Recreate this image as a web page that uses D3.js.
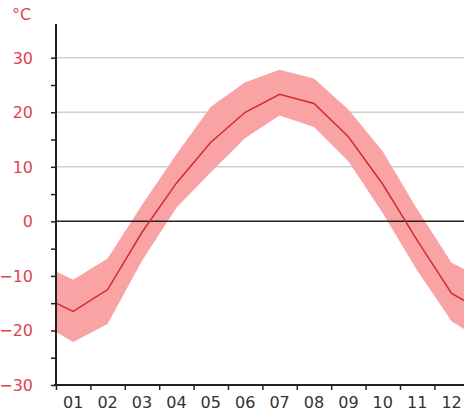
<!DOCTYPE html>
<meta charset="utf-8">
<script src="https://d3js.org/d3.v7.min.js"></script>
<style>
  body { margin: 0; background: #fff; }
  text { font-family: "DejaVu Sans", sans-serif; }
</style>
<div id="chart"></div>
<script>

var months = ["01","02","03","04","05","06","07","08","09","10","11","12"];
var meanTemp = [-16.5, -12.5, -2, 7, 14.5, 20, 23.3, 21.6, 15.5, 6.8, -3.5, -13.2];
var highTemp = [-10.7, -6.8, 3, 12.3, 21, 25.5, 27.8, 26.2, 20.5, 12.8, 2.2, -7.6];
var lowTemp  = [-22.1, -18.8, -7.2, 2.5, 9, 15.3, 19.4, 17.3, 11, 1.5, -9, -18.3];
// values where the curves meet the left and right edges (Dec/Jan wrap)
var edgeMean = -15, edgeHigh = -9.2, edgeLow = -20.3;
var yTicks = [-30, -20, -10, 0, 10, 20, 30];
var gridValues = [10, 20, 30];

var width = 464, height = 413,
  red = "#e0424c",
  lineRed = "#d42a2f",
  bandPink = "#f9a3a4";

var svg = d3.select("#chart")
  .append("svg")
    .attr("width", width)
    .attr("height", height);

var x = d3.scaleLinear().domain([0, 12]).range([56, 468.8]);
var y = d3.scaleLinear().domain([-30, 36]).range([385, 25]);

// points at month centres plus the wrap-around edges
var pts = [{m: 0, mean: edgeMean, hi: edgeHigh, lo: edgeLow}];
months.forEach(function(d, i) {
  pts.push({m: i + 0.5, mean: meanTemp[i], hi: highTemp[i], lo: lowTemp[i]});
});
pts.push({m: 12, mean: edgeMean, hi: edgeHigh, lo: edgeLow});

// grid
svg.selectAll(".grid")
  .data(gridValues)
  .enter()
  .append("line")
    .attr("x1", 56).attr("x2", width)
    .attr("y1", function(d){ return y(d) }).attr("y2", function(d){ return y(d) })
    .style("stroke", "#cfcfcf")
    .style("stroke-width", 1.5)

// band
svg.append("path")
  .datum(pts)
  .attr("d", d3.area()
    .x(function(d){ return x(d.m) })
    .y0(function(d){ return y(d.lo) })
    .y1(function(d){ return y(d.hi) }))
  .style("fill", bandPink)

// zero line
svg.append("line")
  .attr("x1", 56).attr("x2", width)
  .attr("y1", y(0)).attr("y2", y(0))
  .style("stroke", "#222")
  .style("stroke-width", 1.5)

// mean line
svg.append("path")
  .datum(pts)
  .attr("d", d3.line()
    .x(function(d){ return x(d.m) })
    .y(function(d){ return y(d.mean) }))
  .style("fill", "none")
  .style("stroke", lineRed)
  .style("stroke-width", 1.5)

// y axis
var yAxis = svg.append("g")
  .attr("transform", "translate(56,0)")
  .call(d3.axisLeft(y).tickValues(d3.range(-30, 31, 5)).tickSize(5).tickFormat(""))
yAxis.select(".domain").remove();
yAxis.selectAll("line").style("stroke", "#222").style("stroke-width", 1.5);
svg.append("line")
  .attr("x1", 56).attr("x2", 56)
  .attr("y1", 24).attr("y2", y(-30))
  .style("stroke", "#222")
  .style("stroke-width", 2)

svg.selectAll(".ylab")
  .data(yTicks)
  .enter()
  .append("text")
    .attr("x", 33)
    .attr("y", function(d){ return y(d) + 6 })
    .attr("text-anchor", "end")
    .style("font-size", "16px")
    .style("fill", red)
    .text(function(d){ return d < 0 ? "\u2212" + Math.abs(d) : d })

svg.append("text")
  .attr("x", 12).attr("y", 20)
  .style("font-size", "16px")
  .style("fill", red)
  .text("°C")

// x axis
var xAxis = svg.append("g")
  .attr("transform", "translate(0," + y(-30) + ")")
  .call(d3.axisBottom(x).tickValues(d3.range(0, 13)).tickSize(5).tickFormat(""))
xAxis.select(".domain").remove();
xAxis.selectAll("line").style("stroke", "#222").style("stroke-width", 1.5);
svg.append("line")
  .attr("x1", 54).attr("x2", width)
  .attr("y1", y(-30)).attr("y2", y(-30))
  .style("stroke", "#222")
  .style("stroke-width", 2)

svg.selectAll(".xlab")
  .data(months)
  .enter()
  .append("text")
    .attr("x", function(d, i){ return x(i + 0.5) })
    .attr("y", 408)
    .attr("text-anchor", "middle")
    .style("font-size", "16px")
    .style("fill", "#333")
    .text(function(d){ return d })

</script>
